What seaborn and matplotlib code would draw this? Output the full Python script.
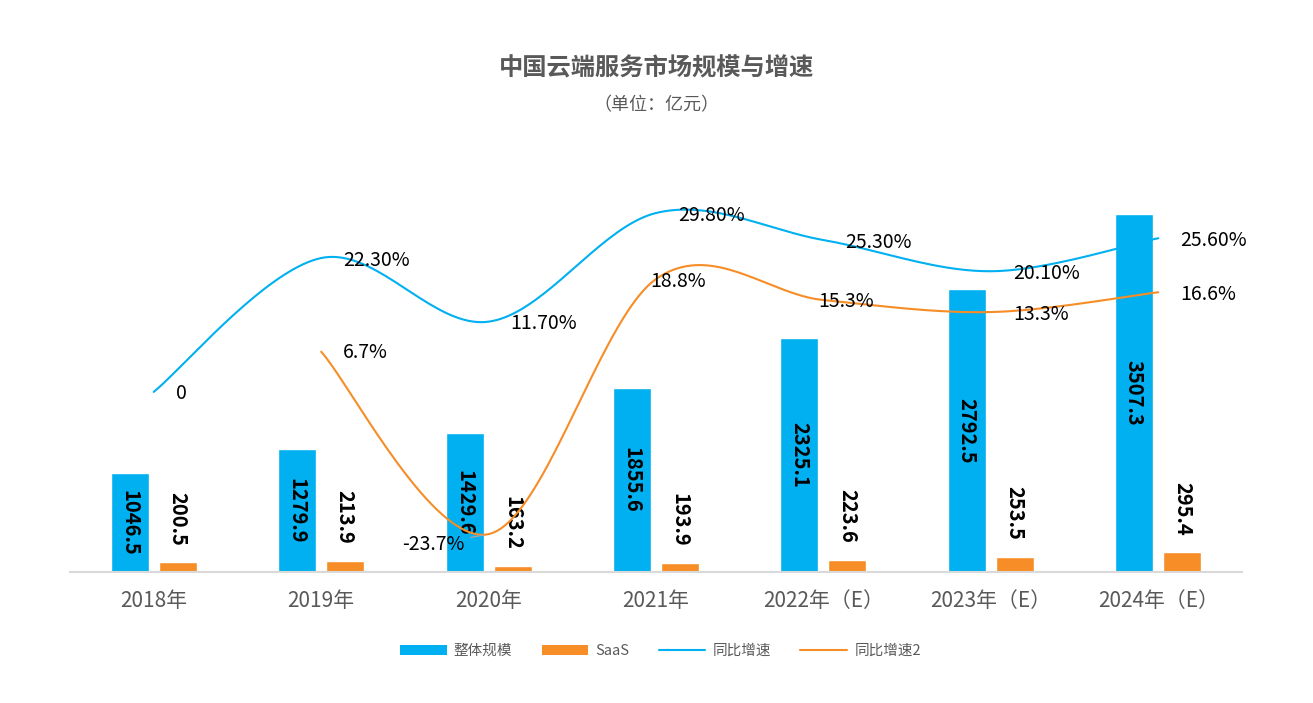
import numpy as np
import pandas as pd
import matplotlib
matplotlib.use('Agg')
import matplotlib.pyplot as plt
import seaborn as sns
from matplotlib.patches import Patch
from matplotlib.lines import Line2D

years = ['2018年', '2019年', '2020年', '2021年', '2022年（E）', '2023年（E）', '2024年（E）']
total = [1046.5, 1279.9, 1429.6, 1855.6, 2325.1, 2792.5, 3507.3]
saas = [200.5, 213.9, 163.2, 193.9, 223.6, 253.5, 295.4]
growth = [0, 22.3, 11.7, 29.8, 25.3, 20.1, 25.6]
growth_labels = ['0', '22.30%', '11.70%', '29.80%', '25.30%', '20.10%', '25.60%']
growth2 = [None, 6.7, -23.7, 18.8, 15.3, 13.3, 16.6]
growth2_labels = ['', '6.7%', '-23.7%', '18.8%', '15.3%', '13.3%', '16.6%']

BLUE = '#00b0f0'
ORANGE = '#f68d26'
GRAY = '#595959'


def smooth(xs, ys, n=40):
    # excel-like smoothed line (catmull-rom bezier)
    px, py = [], []
    for i in range(len(xs) - 1):
        x0, y0 = (xs[i - 1], ys[i - 1]) if i > 0 else (xs[i], ys[i])
        x1, y1 = xs[i], ys[i]
        x2, y2 = xs[i + 1], ys[i + 1]
        x3, y3 = (xs[i + 2], ys[i + 2]) if i + 2 < len(xs) else (xs[i + 1], ys[i + 1])
        c1x, c1y = x1 + (x2 - x0) / 6, y1 + (y2 - y0) / 6
        c2x, c2y = x2 - (x3 - x1) / 6, y2 - (y3 - y1) / 6
        t = np.linspace(0, 1, n)
        bx = (1-t)**3*x1 + 3*(1-t)**2*t*c1x + 3*(1-t)*t**2*c2x + t**3*x2
        by = (1-t)**3*y1 + 3*(1-t)**2*t*c1y + 3*(1-t)*t**2*c2y + t**3*y2
        px.extend(bx)
        py.extend(by)
    return np.array(px), np.array(py)


sns.set_style('white')
plt.rcParams['font.family'] = ['Noto Sans CJK SC', 'DejaVu Sans']

fig = plt.figure(figsize=(13.13, 7.03), dpi=100)
ax = fig.add_axes([70/1313, 131/703, 1172/1313, 392/703])

df = pd.DataFrame({
    'year': years * 2,
    'series': ['整体规模'] * 7 + ['SaaS'] * 7,
    'value': total + saas,
})
sns.barplot(data=df, x='year', y='value', hue='series', palette=[BLUE, ORANGE],
            width=0.574, gap=0.21, ax=ax, legend=False, saturation=1)

ax.bar_label(ax.containers[0], fmt='%.1f', label_type='center', rotation=270,
             fontsize=14.5, fontweight='bold', color='black')
ax.bar_label(ax.containers[1], fmt='%.1f', padding=12, rotation=270,
             fontsize=14.5, fontweight='bold', color='black')

ax.set_ylim(107, 3830)
ax.set_xlim(-0.5, 6.5)
ax.set_xlabel('')
ax.set_ylabel('')
ax.set_yticks([])
ax.tick_params(axis='x', length=0, labelsize=15, labelcolor=GRAY, pad=13)
for s in ['top', 'left', 'right']:
    ax.spines[s].set_visible(False)
ax.spines['bottom'].set_color('#d9d9d9')
ax.spines['bottom'].set_linewidth(1.5)

ax2 = ax.twinx()
ax2.set_ylim(-30, 35.3)
xs = list(range(7))
bx, by = smooth(xs, growth)
sns.lineplot(x=bx, y=by, color=BLUE, lw=1.5, sort=False, estimator=None, ax=ax2)
ox, oy = smooth(xs[1:], growth2[1:])
sns.lineplot(x=ox, y=oy, color=ORANGE, lw=1.5, sort=False, estimator=None, ax=ax2)
ax2.set_xlim(-0.5, 6.5)
ax2.set_yticks([])
ax2.set_ylabel('')
for s in ax2.spines.values():
    s.set_visible(False)

for i, (v, t) in enumerate(zip(growth, growth_labels)):
    ax2.annotate(t, (i, v), xytext=(22, -2), textcoords='offset pixels',
                 ha='left', va='center', fontsize=14, color='black')

offsets2 = [None, (22, -1), (-24, -10), (-6, -2), (-5, -1), (22, -2), (22, -2)]
for i, (v, t) in enumerate(zip(growth2, growth2_labels)):
    if v is None:
        continue
    if i == 2:
        ax2.annotate(t, (i, v), xytext=offsets2[i], textcoords='offset pixels',
                     ha='right', va='center', fontsize=14, color='black',
                     arrowprops=dict(arrowstyle='-', color='#a6a6a6', lw=1,
                                     shrinkA=2, shrinkB=4))
    else:
        ax2.annotate(t, (i, v), xytext=offsets2[i], textcoords='offset pixels',
                     ha='left', va='center', fontsize=14, color='black')

fig.text(0.5, 1 - 68/703, '中国云端服务市场规模与增速', ha='center', va='center',
         fontsize=17.5, fontweight='bold', color=GRAY)
fig.text(0.5, 1 - 105/703, '（单位：亿元）', ha='center', va='center',
         fontsize=13, color=GRAY)

handles = [
    Patch(facecolor=BLUE, edgecolor='none'),
    Patch(facecolor=ORANGE, edgecolor='none'),
    Line2D([], [], color=BLUE, lw=1.5),
    Line2D([], [], color=ORANGE, lw=1.5),
]
fig.legend(handles, ['整体规模', 'SaaS', '同比增速', '同比增速2'], loc='center',
           bbox_to_anchor=(0.503, 1 - 651/703), ncol=4, frameon=False,
           fontsize=10.5, labelcolor=GRAY, handlelength=3.2, handleheight=0.7,
           columnspacing=2.0, handletextpad=0.5)

fig.savefig('out.png', dpi=100)
